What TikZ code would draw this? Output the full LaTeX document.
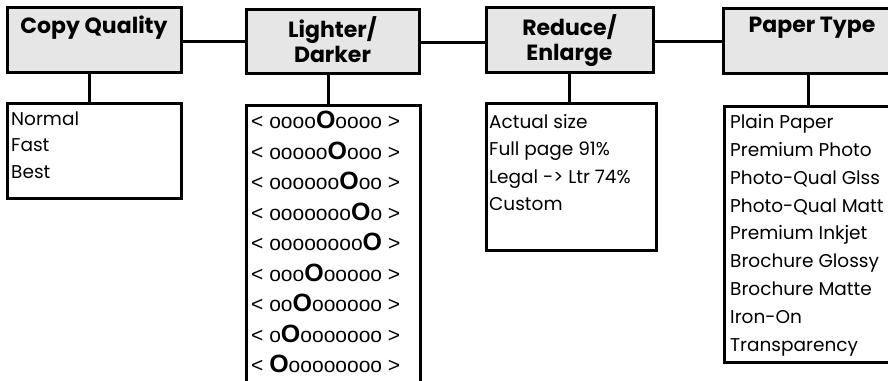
\documentclass[tikz,border=0pt]{standalone}
\usepackage{fontspec}
\setmainfont{Poppins}
\newfontfamily\arialf{Liberation Sans}
\definecolor{hdrgray}{RGB}{230,230,230}
\newcommand\bigO{{\bfseries\fontsize{25}{25}\selectfont O}}
\begin{document}
\begin{tikzpicture}[x=1pt,y=-1pt,
  boxbase/.style={draw, line width=3pt, inner sep=0pt, outer sep=0pt, anchor=north west},
  hdr/.style={boxbase, fill=hdrgray},
  lst/.style={boxbase, fill=white},
  conn/.style={line width=3pt},
  htxt/.style={inner sep=0pt, anchor=base},
  ltxt/.style={inner sep=0pt, anchor=base west}]
\useasboundingbox (0,0) rectangle (888,380);
\clip (0,0) rectangle (888,380);

% header boxes
\node[hdr, minimum width=174pt, minimum height=65pt] (cqh) at (7,7) {};
\node[hdr, minimum width=173pt, minimum height=64pt] (ldh) at (246,9) {};
\node[hdr, minimum width=167pt, minimum height=65pt] (reh) at (486,7) {};
\node[hdr, minimum width=178pt, minimum height=65pt] (pth) at (723,8) {};

% list boxes
\node[lst, minimum width=174pt, minimum height=95pt] (cql) at (7,103) {};
\node[lst, minimum width=174pt, minimum height=300pt] (ldl) at (246,105) {};
\node[lst, minimum width=170pt, minimum height=147pt] (rel) at (486,103) {};
\node[lst, minimum width=177pt, minimum height=256pt] (ptl) at (724,106) {};

% horizontal connectors
\draw[conn] ([yshift=-2pt]cqh.east) -- ([yshift=-2pt]cqh.east -| ldh.west);
\draw[conn] ([yshift=-1pt]ldh.east) -- ([yshift=-1pt]ldh.east -| reh.west);
\draw[conn] ([yshift=-2pt]reh.east) -- ([yshift=-2pt]reh.east -| pth.west);

% vertical connectors
\draw[conn] ([xshift=-5pt]cqh.south) -- ([xshift=-5pt]cqh.south |- cql.north);
\draw[conn] ([xshift=-4.5pt]ldh.south) -- ([xshift=-4.5pt]ldh.south |- ldl.north);
\draw[conn] (reh.south) -- (reh.south |- rel.north);
\draw[conn] ([xshift=-4pt]pth.south) -- ([xshift=-4pt]pth.south |- ptl.north);

% header texts
\node[htxt] (cqt) at (94,33) {\parbox[t]{172pt}{\centering\bfseries\fontsize{22}{25}\selectfont Copy Quality}};
\node[htxt] (ldt) at (332.5,37) {\parbox[t]{170pt}{\centering\bfseries\fontsize{22}{25}\selectfont Lighter/\\Darker}};
\node[htxt] (ret) at (569.5,35) {\parbox[t]{165pt}{\centering\bfseries\fontsize{22}{25}\selectfont Reduce/\\Enlarge}};
\node[htxt] (ptt) at (812,32) {\parbox[t]{175pt}{\centering\bfseries\fontsize{22}{25}\selectfont Paper Type}};

% list texts
\node[ltxt] (cqx) at (11,125) {\parbox[t]{165pt}{\fontsize{18.5}{26.7}\selectfont Normal\\Fast\\Best}};
\node[ltxt] (ldx) at (251,128.5) {\parbox[t]{165pt}{\arialf\fontsize{21}{30.5}\selectfont
< oooo\bigO oooo >\\
< ooooo\bigO ooo >\\
< oooooo\bigO oo >\\
< ooooooo\bigO o >\\
< oooooooo\bigO{} >\\
< ooo\bigO ooooo >\\
< oo\bigO oooooo >\\
< o\bigO ooooooo >\\
< \bigO oooooooo >}};
\node[ltxt] (rex) at (489,128.3) {\parbox[t]{165pt}{\fontsize{18.5}{27.5}\selectfont Actual size\\Full page 91\%\\Legal -> Ltr 74\%\\Custom}};
\node[ltxt] (ptx) at (730,128.3) {\parbox[t]{165pt}{\fontsize{18.5}{27.9}\selectfont Plain Paper\\Premium Photo\\Photo-Qual Glss\\Photo-Qual Matt\\Premium Inkjet\\Brochure Glossy\\Brochure Matte\\Iron-On\\Transparency}};
\end{tikzpicture}
\end{document}
